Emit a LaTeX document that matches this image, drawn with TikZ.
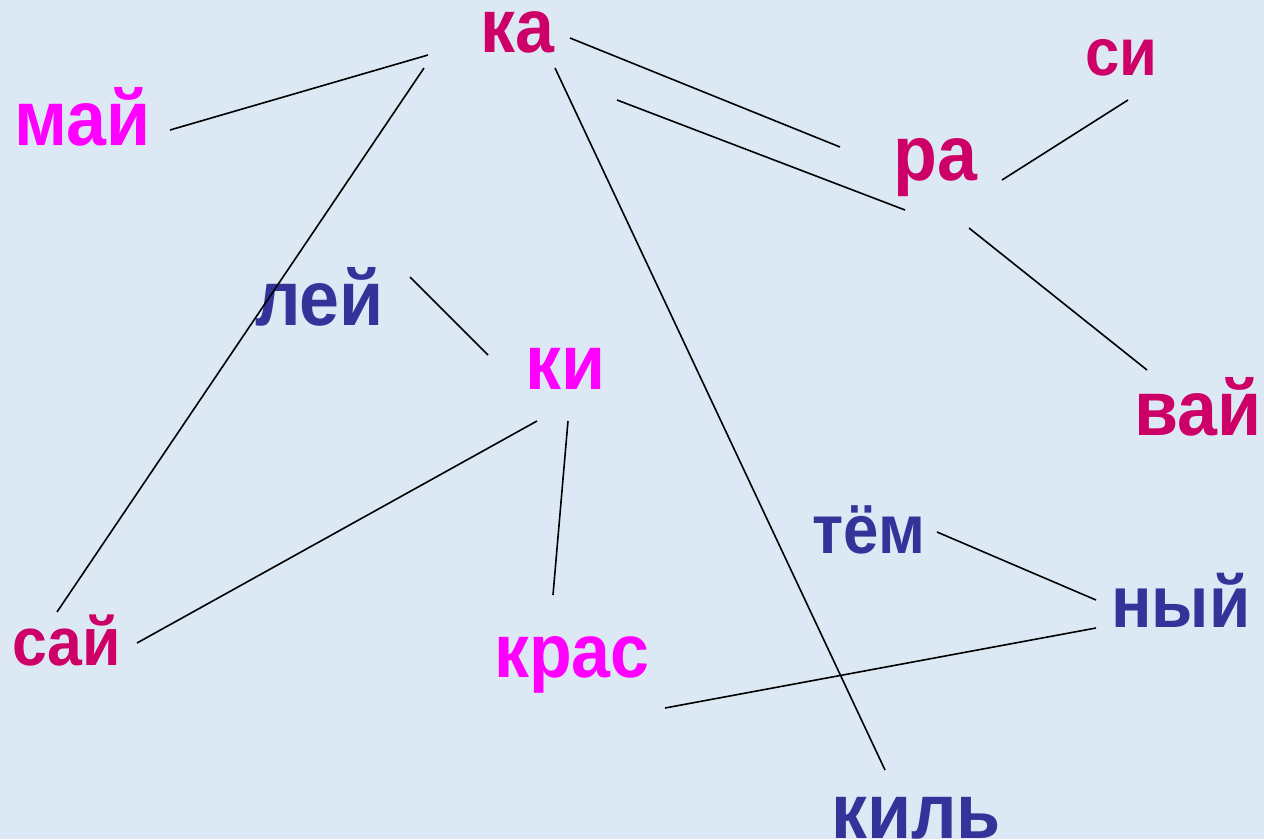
\documentclass[tikz,border=0pt]{standalone}
\usepackage{fontspec}
\newfontfamily\wfont{Liberation Sans}[FakeStretch=0.92]
\definecolor{crim}{HTML}{CC0066}
\definecolor{mag}{HTML}{FF00FF}
\definecolor{dblue}{HTML}{333399}
\definecolor{bg}{HTML}{DCE9F5}
\begin{document}
\begin{tikzpicture}[x=1pt,y=-1pt,
  word/.style={anchor=base west,inner sep=0pt,font=\wfont\bfseries\fontsize{#1}{#1}\selectfont},
  wc/.style={word=#1,text=crim},
  wm/.style={word=#1,text=mag},
  wb/.style={word=#1,text=dblue},
  link/.style={draw=black,line width=1.6pt}]
\fill[bg] (0,0) rectangle (1264,839);
\useasboundingbox (0,0) rectangle (1264,839);
% words
\node[wc=76] (ka) at (480,52) {ка};
\node[wm=78] (may) at (14,145) {май};
\node[wc=67] (si) at (1085,75) {си};
\node[wc=78] (ra) at (893,180) {ра};
\node[wb=78] (ley) at (255,325) {лей};
\node[wm=78] (ki) at (525,389) {ки};
\node[wc=78] (vay) at (1134,435) {вай};
\node[wb=69] (tem) at (812,553) {тём};
\node[wb=73] (nyy) at (1111,627) {ный};
\node[wc=68] (say) at (12,665) {сай};
\node[wm=76] (kras) at (494,677) {крас};
\node[wb=78] (kil) at (831,838) {киль};
% connector ends
\coordinate (ka1) at (428,55);   \coordinate (may1) at (170,130);
\coordinate (ka2) at (424,68);   \coordinate (say1) at (57,612);
\coordinate (ka3) at (570,38);   \coordinate (ra1) at (840,147);
\coordinate (ka4) at (617,100);  \coordinate (ra2) at (905,210);
\coordinate (ka5) at (555,68);   \coordinate (kil1) at (885,770);
\coordinate (ra3) at (1002,180); \coordinate (si1) at (1128,100);
\coordinate (ra4) at (969,228);  \coordinate (vay1) at (1147,370);
\coordinate (ley1) at (410,277); \coordinate (ki1) at (488,355);
\coordinate (ki2) at (537,421);  \coordinate (say2) at (137,643);
\coordinate (ki3) at (568,421);  \coordinate (kras1) at (553,595);
\coordinate (tem1) at (937,532); \coordinate (nyy1) at (1096,600);
\coordinate (nyy2) at (1096,628);\coordinate (kras2) at (665,708);
% connectors
\draw[link] (may1) -- (ka1);
\draw[link] (ka2) -- (say1);
\draw[link] (ka3) -- (ra1);
\draw[link] (ka4) -- (ra2);
\draw[link] (ka5) -- (kil1);
\draw[link] (ra3) -- (si1);
\draw[link] (ra4) -- (vay1);
\draw[link] (ley1) -- (ki1);
\draw[link] (ki2) -- (say2);
\draw[link] (ki3) -- (kras1);
\draw[link] (tem1) -- (nyy1);
\draw[link] (nyy2) -- (kras2);
\end{tikzpicture}
\end{document}
